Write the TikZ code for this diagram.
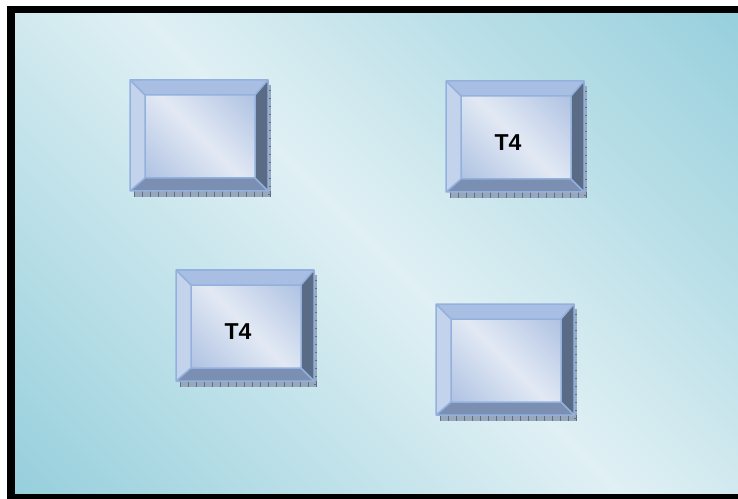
\documentclass[tikz,border=0pt]{standalone}
\usepackage{fontspec}
\newfontfamily\lblfont{Liberation Sans}
\definecolor{bgdark}{HTML}{8DCBD9}
\definecolor{bglight}{HTML}{E0F0F4}
\definecolor{topc}{HTML}{A8BFE3}
\definecolor{leftc}{HTML}{C4D3EC}
\definecolor{rightc}{HTML}{5A6B85}
\definecolor{botc}{HTML}{7A8FB1}
\definecolor{edgec}{HTML}{93B1DC}
\definecolor{facedark}{HTML}{A5BBDF}
\definecolor{facelight}{HTML}{E2E9F4}
\definecolor{shadowc}{HTML}{98A8BC}
\definecolor{tickc}{HTML}{5E6F87}
\pgfdeclareverticalshading{bgshade}{100bp}{color(0bp)=(bgdark); color(10bp)=(bgdark); color(50bp)=(bglight); color(90bp)=(bgdark); color(100bp)=(bgdark)}
\pgfdeclareverticalshading{faceshade}{100bp}{color(0bp)=(facedark); color(8bp)=(facedark); color(50bp)=(facelight); color(92bp)=(facedark); color(100bp)=(facedark)}
\tikzset{
  lbl/.style={font=\lblfont\bfseries\fontsize{23bp}{26bp}\selectfont, text=black, inner sep=0pt},
  bevelbox/.pic={
    \fill[shadowc] (4,111) rectangle (141,117);
    \fill[shadowc] (138,5) rectangle (141,117);
    \foreach \i in {4,12,...,140} \draw[tickc, line width=0.5bp] (\i,111) -- (\i,117);
    \foreach \j in {10,18,...,114} \draw[tickc, line width=0.5bp] (138,\j) -- (141,\j);
    \fill[topc] (0,0) -- (138,0) -- (125,15) -- (15,15) -- cycle;
    \fill[leftc] (0,0) -- (15,15) -- (15,98) -- (0,111) -- cycle;
    \fill[rightc] (138,0) -- (138,111) -- (125,98) -- (125,15) -- cycle;
    \fill[botc] (0,111) -- (15,98) -- (125,98) -- (138,111) -- cycle;
    \begin{scope}[y=1bp]
      \shade[shading=faceshade, shading angle=-45] (15,-15) rectangle (125,-98);
    \end{scope}
    \draw[edgec, line width=1.5bp, line join=round]
      (0,0) rectangle (138,111) (15,15) rectangle (125,98)
      (0,0) -- (15,15) (138,0) -- (125,15) (0,111) -- (15,98) (138,111) -- (125,98);
    \node[lbl] (-c) at (62,62) {#1};
  }
}
\begin{document}
\begin{tikzpicture}[x=1bp, y=-1bp]
  \useasboundingbox (0,0) rectangle (738,499);
  \clip (0,0) rectangle (738,499);
  \fill[white] (0,0) rectangle (738,499);
  \fill[black] (7,6) rectangle (745,506);
  \begin{scope}[y=1bp]
    \shade[shading=bgshade, shading angle=-45] (15,-14) rectangle (745,-493);
  \end{scope}
  \pic (b1) at (130,80) {bevelbox={}};
  \pic (b2) at (446,81) {bevelbox={T4}};
  \pic (b3) at (176,270) {bevelbox={T4}};
  \pic (b4) at (436,304) {bevelbox={}};
\end{tikzpicture}
\end{document}
